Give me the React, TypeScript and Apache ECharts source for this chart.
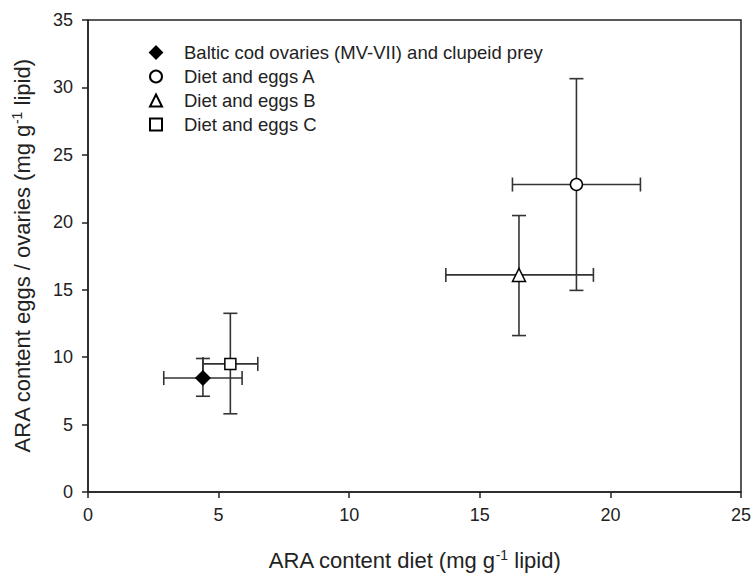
import React, { useEffect, useRef } from "react";
import * as echarts from "echarts";

// Group names shown in the legend
const groups = [
  "Baltic cod ovaries (MV-VII) and clupeid prey",
  "Diet and eggs A",
  "Diet and eggs B",
  "Diet and eggs C",
];
// ARA in diet (x): mean and error range
const dietMean = [4.4, 18.7, 16.5, 5.45];
const dietLow = [2.9, 16.25, 13.7, 4.4];
const dietHigh = [5.9, 21.15, 19.35, 6.5];
// ARA in eggs / ovaries (y): mean and error range
const eggMean = [8.45, 22.8, 16.1, 9.5];
const eggLow = [7.1, 14.95, 11.6, 5.8];
const eggHigh = [9.9, 30.65, 20.5, 13.25];
// Marker per group
const symbols = ["diamond", "circle", "triangle", "rect"];
const symbolSizes = [14, 12, 13, 11];
const fills = ["#000000", "#ffffff", "#ffffff", "#ffffff"];

const INK = "#222222";
const FONT = "Liberation Sans, Arial, sans-serif";

export default function App() {
  const ref = useRef<HTMLDivElement>(null);

  useEffect(() => {
    if (!ref.current) return;
    const chart = echarts.init(ref.current, undefined, { renderer: "svg" });

    const errorData = groups.map((_, i) => [
      dietMean[i],
      eggMean[i],
      dietLow[i],
      dietHigh[i],
      eggLow[i],
      eggHigh[i],
    ]);

    const cap = 7;
    const lineStyle = { stroke: "#333333", lineWidth: 1.6 };

    const errorSeries: any = {
      type: "custom",
      name: "errors",
      data: errorData,
      encode: { x: 0, y: 1 },
      z: 1,
      renderItem: (_params: any, api: any) => {
        const x = api.value(0);
        const y = api.value(1);
        const xl = api.coord([api.value(2), y]);
        const xh = api.coord([api.value(3), y]);
        const yl = api.coord([x, api.value(4)]);
        const yh = api.coord([x, api.value(5)]);
        const mk = (x1: number, y1: number, x2: number, y2: number) => ({
          type: "line",
          shape: { x1, y1, x2, y2 },
          style: lineStyle,
        });
        return {
          type: "group",
          children: [
            mk(xl[0], xl[1], xh[0], xh[1]),
            mk(xl[0], xl[1] - cap, xl[0], xl[1] + cap),
            mk(xh[0], xh[1] - cap, xh[0], xh[1] + cap),
            mk(yl[0], yl[1], yh[0], yh[1]),
            mk(yl[0] - cap, yl[1], yl[0] + cap, yl[1]),
            mk(yh[0] - cap, yh[1], yh[0] + cap, yh[1]),
          ],
        };
      },
    };

    const pointSeries = groups.map((name, i) => ({
      type: "scatter",
      name,
      data: [[dietMean[i], eggMean[i]]],
      symbol: symbols[i],
      symbolSize: symbolSizes[i],
      z: 3,
      itemStyle: {
        color: fills[i],
        borderColor: "#000000",
        borderWidth: 1.5,
        opacity: 1,
      },
    }));

    const axisCommon = {
      axisLine: { show: true, lineStyle: { color: INK, width: 1.5 } },
      axisTick: { show: true, inside: false, length: 6, lineStyle: { color: INK, width: 1.5 } },
      splitLine: { show: false },
      axisLabel: { color: INK, fontSize: 18, fontFamily: FONT },
      nameTextStyle: {
        color: INK,
        fontSize: 22,
        fontFamily: FONT,
        rich: {
          sup: { fontSize: 14, fontFamily: FONT, color: INK, verticalAlign: "top", padding: [0, 0, 10, 0] },
        },
      },
    };

    chart.setOption({
      animation: false,
      backgroundColor: "#ffffff",
      grid: { left: 88, right: 11, top: 20, bottom: 86, show: true, borderColor: INK, borderWidth: 1.5 },
      legend: {
        data: groups,
        orient: "vertical",
        left: 144,
        top: 38,
        itemWidth: 12,
        itemHeight: 12,
        itemGap: 5,
        textStyle: { color: INK, fontSize: 18.5, lineHeight: 19, fontFamily: FONT, padding: [0, 0, 0, 17] },
        selectedMode: false,
      },
      xAxis: {
        type: "value",
        min: 0,
        max: 25,
        interval: 5,
        name: "ARA content diet (mg g{sup|-1} lipid)",
        nameLocation: "middle",
        nameGap: 56,
        ...axisCommon,
        axisLabel: { ...axisCommon.axisLabel, margin: 14 },
      },
      yAxis: {
        type: "value",
        min: 0,
        max: 35,
        interval: 5,
        name: "ARA content eggs / ovaries (mg g{sup|-1} lipid)",
        nameLocation: "middle",
        nameGap: 54,
        ...axisCommon,
        axisLabel: { ...axisCommon.axisLabel, margin: 15 },
      },
      series: [errorSeries, ...pointSeries],
    });

    return () => chart.dispose();
  }, []);

  return <div ref={ref} style={{ width: 754, height: 578, position: "absolute", left: 0, top: 0 }} />;
}
